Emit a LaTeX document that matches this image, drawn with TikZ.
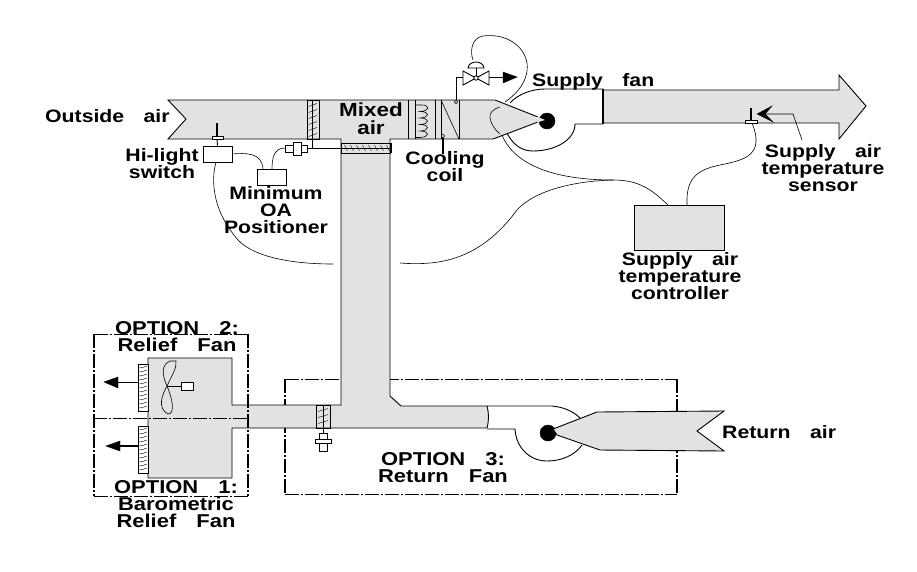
\documentclass[tikz,border=0pt]{standalone}
\usepackage{fontspec}
\setmainfont{Liberation Sans}[FakeStretch=1.18]
\newcommand{\W}{\ \hspace{0.75em}}
\definecolor{ductgray}{HTML}{E2E2E2}
\tikzset{
  duct/.style={draw=black,fill=ductgray,line width=0.9pt,line join=miter},
  ln/.style={draw=black,line width=0.9pt},
  wire/.style={draw=black,line width=0.6pt},
  boxw/.style={draw=black,fill=white,line width=0.9pt,inner sep=0pt,rectangle},
  boxg/.style={draw=black,fill=ductgray,line width=0.9pt,inner sep=0pt,rectangle},
  optbox/.style={draw=black,line width=0.8pt,dash pattern=on 14pt off 2pt on 2pt off 2pt},
  optside/.style={draw=black,line width=1.4pt,dash pattern=on 14pt off 2pt on 2pt off 2pt},
  lab/.style={font=\bfseries\fontsize{18}{17}\selectfont,align=center,inner sep=0pt,text depth=0pt},
  labbig/.style={font=\bfseries\fontsize{19}{18}\selectfont,align=center,inner sep=0pt,text depth=0pt},
  labopt/.style={font=\bfseries\fontsize{18.6}{17}\selectfont,align=center,inner sep=0pt,text depth=0pt},
  tick/.style={draw=black,line width=0.4pt},
  solidblack/.style={fill=black,draw=black,line width=0.4pt}
}
\begin{document}
\begin{tikzpicture}[x=1pt,y=-1pt]
\useasboundingbox (0,0) rectangle (917,571);
% option 3 box (under the ducts)
\draw[optbox] (285,379) -- (677,379);
\draw[optbox] (285,494) -- (677,494);
\draw[optside] (285,379) -- (285,494);
\draw[optside] (677,379) -- (677,494);
% main duct
\path[duct] (168,100) -- (186,119) -- (168,139) -- (341,139) -- (341,405) -- (232,405) -- (232,358)
  -- (148,358) -- (148,478) -- (232,478) -- (232,428) -- (487,428)
  .. controls (489,420) and (489,414) .. (487,406) -- (401,406) -- (390,396) -- (390,139) -- (493,139)
  -- (538,122) -- (538,117) -- (495,100) -- cycle;
% supply fan scroll
\draw[ln] (510,103) .. controls (518,94) and (532,89) .. (545,89) -- (603,89);
\draw[draw=black,line width=1.5pt] (603,89) -- (603,124);
\draw[ln] (603,124) -- (575,124) .. controls (575,140) and (555,151) .. (533,151) .. controls (520,151) and (512,143) .. (507,133);
\draw[wire] (500,107) .. controls (493,109) and (489,113) .. (490,118) .. controls (491,124) and (495,130) .. (500,134);
% supply duct
\path[duct] (604,90) -- (839,90) -- (839,75) -- (866,106) -- (839,139) -- (839,123) -- (604,123);
\fill[solidblack] (547,121) circle (8);
\fill[ductgray] (537,116.5) -- (545,120) -- (537,122.5) -- cycle;
% return fan scroll
\draw[ln] (487,406) -- (552,406) .. controls (563,407) and (573,411) .. (580,418);
\draw[ln] (487,429) -- (515,429) .. controls (516,448) and (530,461) .. (547,461) .. controls (562,461) and (575,455) .. (582,445);
\fill[solidblack] (548,433) circle (8);
\path[duct] (553,429) -- (597,412) -- (724,411) -- (697,431) -- (724,451) -- (600,450) -- (557,435) -- cycle;
% coil section
\draw[ln] (408,100) -- (408,139) (415,100) -- (415,139) (435,100) -- (435,139) (441,100) -- (441,139) (459,100) -- (459,139);
\draw[wire] (441,100) -- (459,139);
\draw[wire] (415,105) -- (422,105)
  foreach \yy in {105,111.5,118,124.5,131} {
    .. controls (430,\yy) and (430,\yy+6) .. (420,\yy+6.5)
  } -- (415,137.5);
% outside damper
\draw[ln] (307,100) rectangle (319,139);
\draw[ln] (312.5,100) -- (312.5,148);
\foreach \yy in {105,111,...,135} \draw[tick] (308.5,\yy+1.5) -- (317,\yy-1.5);
% return damper
\draw[ln] (316,405) rectangle (330,428);
\draw[ln] (323,405) -- (323,434);
\foreach \yy in {410,416,422} \draw[tick] (318,\yy+1.5) -- (328,\yy-1.5);
\draw[boxw] (319,433) rectangle (327,439);
\draw[boxw] (319,443) rectangle (327,451);
\draw[boxw] (315,439) rectangle (331,443);
% horizontal relief damper in vertical duct
\draw[ln] (341,143) rectangle (390,153);
\draw[draw=black,line width=1.4pt] (391,143) -- (391,153);
\foreach \xx in {346,352,...,388} \draw[tick] (\xx-1.5,145) -- (\xx+1.5,151);
% actuator on outside damper
\draw[boxw] (285,145) rectangle (293,152);
\draw[boxw] (301,145) rectangle (307,152);
\draw[boxw] (293,142) rectangle (301,155);
\draw[ln] (307,148) -- (390,148);
% hi-limit sensor and boxes
\draw[draw=black,line width=1.2pt] (217,123) -- (217,136);
\draw[boxw] (212,136) rectangle (223,139);
\node[boxw,minimum width=29pt,minimum height=16pt] (hl) at (217.5,154) {};
\draw[ln] (217,139) -- (hl.north);
\node[boxw,minimum width=29pt,minimum height=16pt] (oa) at (271.5,177) {};
\node[boxg,minimum width=90pt,minimum height=45pt] (ctrl) at (679,227.5) {};
\coordinate (oaR) at (272,169);
\coordinate (oaL) at (263,169);
\coordinate (act) at (285,148);
\coordinate (hlR) at (232,154);
\coordinate (hlB) at (216,162);
\coordinate (brkA) at (333,264);
\coordinate (brkB) at (400,263);
\coordinate (wjoin) at (613,180);
\coordinate (ctrlA) at (668,205);
\coordinate (ctrlB) at (687,205);
\coordinate (sens) at (752,123);
\coordinate (duct1) at (502,135);
\draw[wire] (hlR) .. controls (245,153) and (262,152) .. (oaL);
\draw[wire] (oaR) .. controls (272,158) and (274,148) .. (act);
\draw[wire] (hlB) .. controls (211,180) and (212,210) .. (238,240) .. controls (255,258) and (295,264) .. (brkA);
\draw[wire] (brkB) .. controls (440,266) and (480,260) .. (517,210) .. controls (535,190) and (575,181) .. (wjoin);
\draw[wire] (wjoin) .. controls (640,180) and (652,190) .. (ctrlA);
\draw[wire] (duct1) .. controls (512,160) and (545,180) .. (613,180);
\draw[wire] (ctrlB) .. controls (686,180) and (695,170) .. (720,165) .. controls (745,160) and (765,155) .. (sens);
% valve
\draw[wire] (456,102) circle (1.8);
\draw[ln] (456,100) -- (456,77) -- (463,77);
\draw[ln] (463,71) -- (463,85) -- (489,71) -- (489,85) -- cycle;
\draw[ln,fill=white] (476,78) circle (2.2);
\draw[ln] (476,68) -- (476,76);
\draw[ln] (468,68) -- (484,68) .. controls (483,60) and (469,60) .. (468,68) -- cycle;
\draw[ln] (489,77) -- (503,77);
\fill[solidblack] (503,72) -- (517,77) -- (503,83) -- cycle;
\draw[wire] (473,60) .. controls (470,52) and (471,38) .. (483,36) .. controls (505,33) and (524,45) .. (527,63)
  .. controls (529,80) and (518,93) .. (505,102);
% cooling coil stem
\draw[draw=black,line width=1.2pt] (443,137) -- (443,154);
\draw[wire,fill=white] (443,136) circle (1.8);
% supply air sensor
\draw[draw=black,line width=1.2pt] (751,108) -- (751,121);
\draw[boxw] (745,120) rectangle (757,123);
\fill[solidblack] (757,114) -- (772,106) -- (765,114) -- (773,122) -- cycle;
\draw[wire] (765,114) -- (793,114) -- (802,140);
% relief section
\draw[boxw] (138,364) rectangle (148,411);
\draw[boxw] (138,426) rectangle (148,473);
\foreach \yy in {367,371,...,407} \draw[tick] (139,\yy+1) .. controls (142,\yy+1) and (144,\yy) .. (147,\yy-1);
\foreach \yy in {429,433,...,469} \draw[tick] (139,\yy+1) .. controls (142,\yy+1) and (144,\yy) .. (147,\yy-1);
\draw[ln] (138,382) -- (118,382);
\fill[solidblack] (118,377) -- (104,382) -- (118,388) -- cycle;
\draw[draw=black,line width=1.3pt] (138,446) -- (120,446);
\fill[solidblack] (120,441) -- (106,446) -- (120,451) -- cycle;
\draw[wire] (167,386) .. controls (162,375) and (161,365) .. (170,361) -- (176,361) .. controls (177,368) and (172,375) .. (167,386)
  .. controls (162,395) and (157,408) .. (168,414) .. controls (175,414) and (173,400) .. (167,386);
\draw[wire] (167,386) -- (181,386);
\draw[boxw] (181,382) rectangle (193,390);
% option 1/2 box
\draw[optbox] (94,334) -- (248,334);
\draw[optbox] (94,496) -- (248,496);
\draw[optbox] (93,418) -- (248,418);
\draw[optside] (94,334) -- (94,496);
\draw[optside] (248,334) -- (248,496);
% labels
\node[lab,anchor=west] (tOut) at (45,116) {Outside\W air};
\node[lab] (tHi) at (162,163.5) {Hi-light\\switch};
\node[lab] (tMin) at (276,210) {Minimum\\OA\\Positioner};
\node[labbig] (tMix) at (371,119) {Mixed\\air};
\node[lab] (tCool) at (445,166) {Cooling\\coil};
\node[lab,anchor=west] (tFan) at (532,80) {Supply\W fan};
\node[lab] (tSens) at (823,167.5) {Supply\W air\\temperature\\sensor};
\node[lab] (tCtrl) at (680,275.5) {Supply\W air\\temperature\\controller};
\node[labopt] (tO2) at (177,336) {OPTION\W 2:\\Relief\W Fan};
\node[labopt] (tO1) at (176,504) {OPTION\W 1:\\Barometric\\Relief\W Fan};
\node[labopt] (tO3) at (443,467) {OPTION\W 3:\\Return\W Fan};
\node[lab,anchor=west] (tRet) at (722,432) {Return\W air};
\end{tikzpicture}
\end{document}
